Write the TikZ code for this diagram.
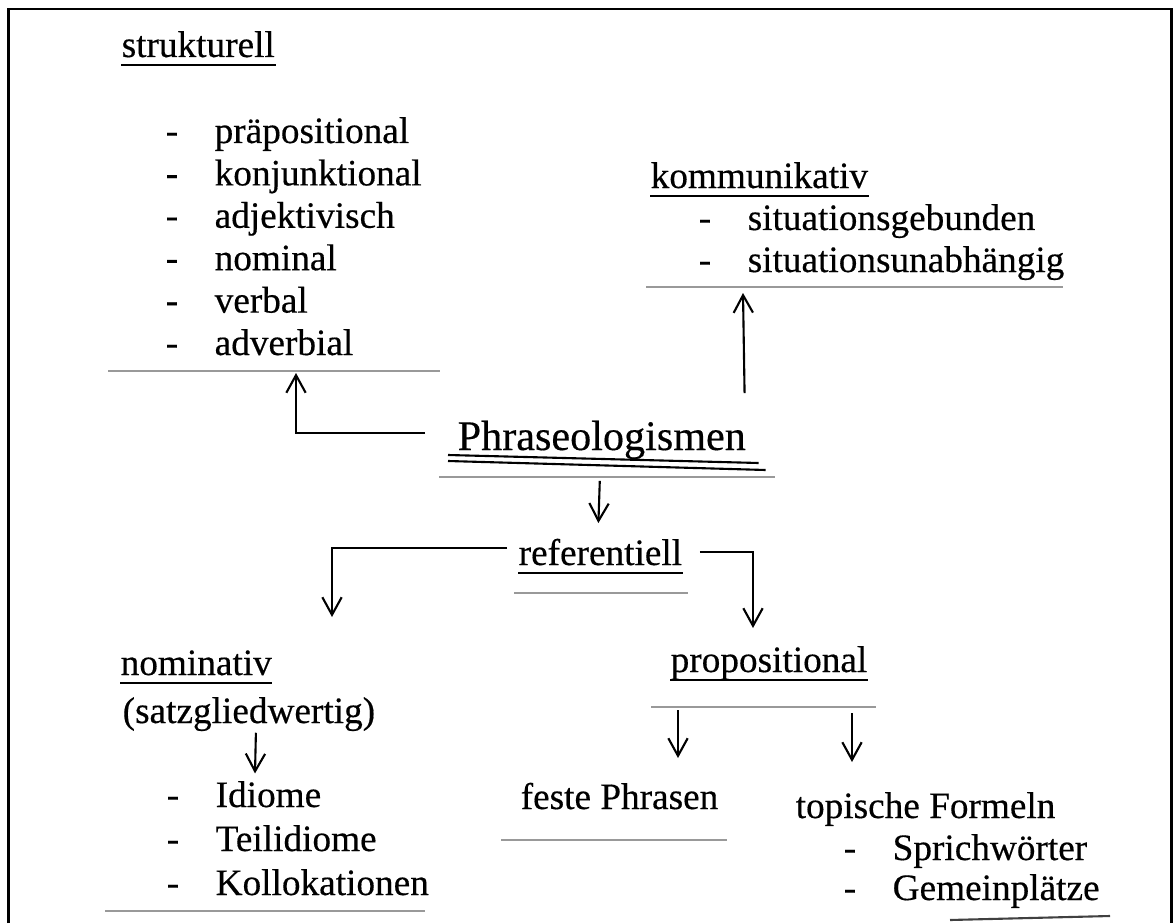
\documentclass[tikz,border=0pt]{standalone}
\usepackage{fontspec}
\setmainfont{Liberation Serif}[FakeBold=0.4]
\usepackage{tikz}
\usetikzlibrary{arrows.meta,calc}
\newcommand{\dashitem}[1]{\makebox[4.9mm][l]{-}#1}
\tikzset{
  txt/.style={anchor=base west,inner sep=0pt,font=\fontsize{10.6}{12.7}\selectfont},
  bigtxt/.style={txt,font=\fontsize{12}{14}\selectfont},
  uline/.style={line width=0.6pt},
  sepline/.style={draw=black!40,line width=0.45pt},
  arrow/.style={-{Straight Barb[length=5pt,width=5.5pt]},line width=0.6pt},
  frame/.style={line width=0.75pt}
}
\begin{document}
\begin{tikzpicture}[x=0.1mm,y=-0.1mm]
  \useasboundingbox (0,0) rectangle (1174,923);
  \draw[frame] (8.5,923) -- (8.5,9) -- (1171.5,9) -- (1171.5,923);

  \node[txt] (strk) at (121,57) {strukturell};
  \foreach \w [count=\i] in {präpositional,konjunktional,adjektivisch,nominal,verbal,adverbial}
    \node[txt] (s\i) at (165,{143+42.4*(\i-1)}) {\dashitem{\w}};

  \node[txt] (komm) at (650,188) {kommunikativ};
  \node[txt] (k1) at (698,230) {\dashitem{situationsgebunden}};
  \node[txt] (k2) at (698,272) {\dashitem{situationsunabhängig}};

  \node[bigtxt] (phr) at (457,450) {Phraseologismen};
  \node[txt] (refer) at (518,565) {referentiell};

  \node[txt] (nomi) at (120,675) {nominativ};
  \node[txt] (satz) at (122,723) {(satzgliedwertig)};
  \foreach \w [count=\i] in {Idiome,Teilidiome,Kollokationen}
    \node[txt] (n\i) at (166,{807+44*(\i-1)}) {\dashitem{\w}};

  \node[txt] (prop) at (670,672) {propositional};
  \node[txt] (feste) at (520,809) {feste Phrasen};
  \node[txt] (topi) at (795,818) {topische Formeln};
  \node[txt] (t1) at (843,860) {\dashitem{Sprichwörter}};
  \node[txt] (t2) at (843,900) {\dashitem{Gemeinplätze}};

  \foreach \n in {strk,komm,refer,nomi,prop}
    \draw[uline] ([yshift=-2.4pt]\n.base west) -- ([yshift=-2.4pt]\n.base east);
  \draw[uline] ($(phr.base west)+(-9,5)$) -- ($(phr.base east)+(12,13)$);
  \draw[uline] ($(phr.base west)+(-9,11)$) -- ($(phr.base east)+(19,20)$);

  \draw[sepline] (108,371) -- (440,371);
  \draw[sepline] (646,287) -- (1063,287);
  \draw[sepline] (439,477) -- (775,477);
  \draw[sepline] (514,593) -- (688,593);
  \draw[sepline] (651,707) -- (876,707);
  \draw[sepline] (501,840) -- (727,840);
  \draw[sepline] (105,911) -- (425,911);
  \draw[sepline,draw=black!75,line width=0.6pt] (950,920) -- (1110,916);

  \coordinate (strin) at (296,373);
  \coordinate (komin) at (743,293);
  \coordinate (nomin) at (332,617);
  \coordinate (propin) at (753,628);
  \coordinate (pA) at (678,710);
  \coordinate (pB) at (852,713);
  \coordinate (festein) at (678,758);
  \coordinate (topiin) at (852,762);

  \draw[arrow] ($(phr.west)+(-32,-7)$) -| (strin);
  \draw[arrow] ($(phr.north east)+(-2,-27)$) -- (komin);
  \draw[arrow] ($(phr.south)+(-2,21)$) -- ($(refer.north)+(-2,-15)$);
  \draw[arrow] ($(refer.west)+(-11,-4)$) -| (nomin);
  \draw[arrow] ($(refer.east)+(17,0)$) -| (propin);
  \draw[arrow] ($(satz.south)+(7,1)$) -- ($(n1.north west)+(89,-7)$);
  \draw[arrow] (pA) -- (festein);
  \draw[arrow] (pB) -- (topiin);
\end{tikzpicture}
\end{document}
